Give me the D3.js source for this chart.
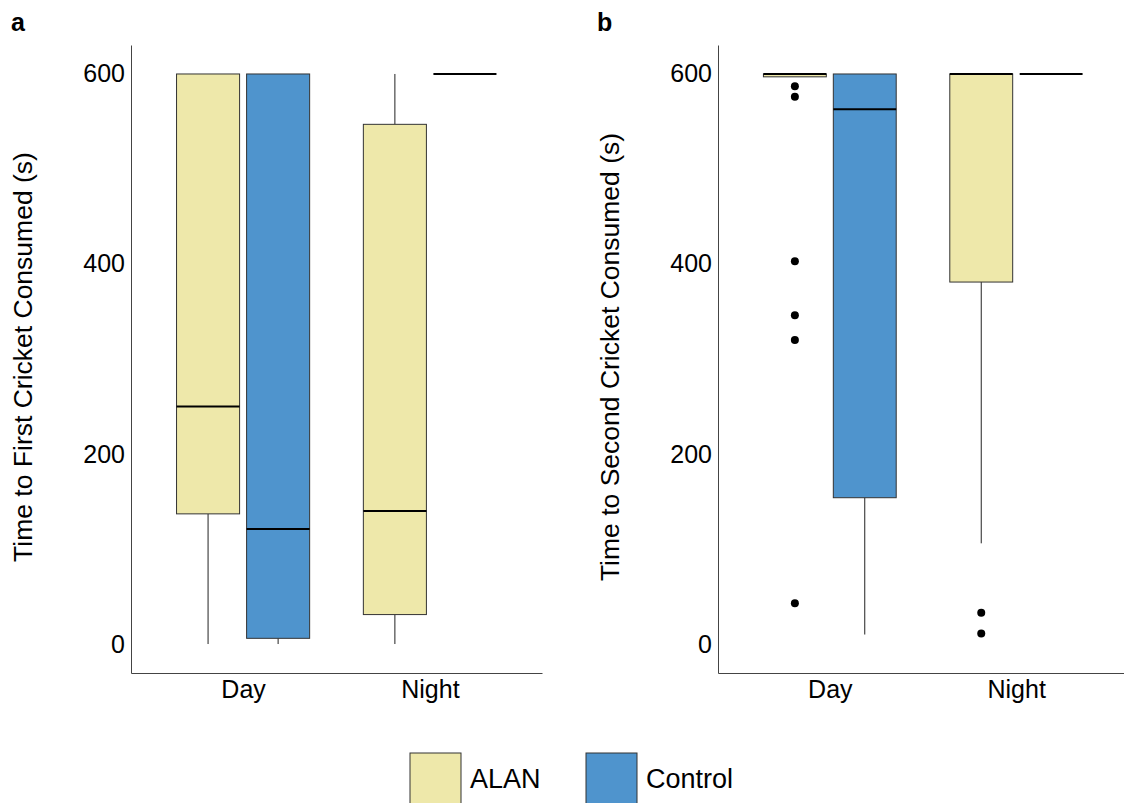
<!DOCTYPE html>
<html>
<head>
<meta charset="utf-8">
<script src="https://cdn.jsdelivr.net/npm/d3@7"></script>
<style>
  body { margin: 0; background: #fff; }
  svg text { font-family: "Liberation Sans", Arial, Helvetica, sans-serif; }
</style>
</head>
<body>
<svg id="chart" width="1124" height="803"></svg>
<script>
// ── Data ──────────────────────────────────────────────────────────────────────
const periods    = ['Day', 'Night'];
const treatments = ['ALAN', 'Control'];
const yTicks     = [0, 200, 400, 600];

// five-number summaries: [lower whisker, q1, median, q3, upper whisker]
const firstStats = [
  { period: 'Day',   treat: 'ALAN',    s: [0, 137, 250, 600, 600], out: [] },
  { period: 'Day',   treat: 'Control', s: [0, 6, 121, 600, 600],   out: [] },
  { period: 'Night', treat: 'ALAN',    s: [0, 31, 140, 547, 600],  out: [] },
  { period: 'Night', treat: 'Control', s: [600, 600, 600, 600, 600], out: [] }
];
const secondStats = [
  { period: 'Day',   treat: 'ALAN',    s: [597, 597, 600, 600, 600], out: [587, 576, 403, 346, 320, 43] },
  { period: 'Day',   treat: 'Control', s: [10, 154, 563, 600, 600],  out: [] },
  { period: 'Night', treat: 'ALAN',    s: [106, 381, 600, 600, 600], out: [33, 11] },
  { period: 'Night', treat: 'Control', s: [600, 600, 600, 600, 600], out: [] }
];

const fills = { ALAN: '#EEE8AA', Control: '#4F94CD' };

// ── Panel renderer ────────────────────────────────────────────────────────────
const svg = d3.select('#chart');

function drawPanel(opts) {
  const { x0, x1, y0, y1, stats, title, letter, letterX } = opts;
  const g = svg.append('g');

  const x = d3.scalePoint().domain(periods).range([x0, x1]).padding(0.6);
  const step = x.step();
  const y = d3.scaleLinear().domain([-30.5, 630.5]).range([y1, y0]);

  const boxW  = step * 0.75 / 2 * 0.9;
  const shift = d => (d.treat === 'ALAN' ? -1 : 1) * step * 0.1875;
  const cx    = d => x(d.period) + shift(d);

  // whiskers
  const bx = g.selectAll('g.box').data(stats).enter().append('g').attr('class', 'box');
  bx.append('line')
    .attr('x1', cx).attr('x2', cx)
    .attr('y1', d => y(d.s[0])).attr('y2', d => y(d.s[1]))
    .attr('stroke', '#222').attr('stroke-width', 1);
  bx.append('line')
    .attr('x1', cx).attr('x2', cx)
    .attr('y1', d => y(d.s[3])).attr('y2', d => y(d.s[4]))
    .attr('stroke', '#222').attr('stroke-width', 1);
  // box
  bx.append('rect')
    .attr('x', d => cx(d) - boxW / 2).attr('width', boxW)
    .attr('y', d => y(d.s[3])).attr('height', d => y(d.s[1]) - y(d.s[3]))
    .attr('fill', d => fills[d.treat])
    .attr('stroke', '#333').attr('stroke-width', 1);
  // median
  bx.append('line')
    .attr('x1', d => cx(d) - boxW / 2).attr('x2', d => cx(d) + boxW / 2)
    .attr('y1', d => y(d.s[2])).attr('y2', d => y(d.s[2]))
    .attr('stroke', '#000').attr('stroke-width', 2);
  // outliers
  bx.selectAll('circle').data(d => d.out.map(v => ({ v, c: cx(d) }))).enter().append('circle')
    .attr('cx', o => o.c).attr('cy', o => y(o.v)).attr('r', 4).attr('fill', '#000');

  // axes
  const yAxis = d3.axisLeft(y).tickValues(yTicks).tickSize(0).tickPadding(6);
  const ya = g.append('g').attr('transform', `translate(${x0},0)`).call(yAxis);
  ya.select('.domain').attr('stroke', '#444');
  ya.selectAll('text').attr('font-size', 25).attr('fill', '#000');

  const xAxis = d3.axisBottom(x).tickSize(0).tickPadding(7);
  const xa = g.append('g').attr('transform', `translate(0,${y1})`).call(xAxis);
  xa.select('.domain').attr('stroke', '#444');
  xa.selectAll('text').attr('font-size', 25).attr('fill', '#000');

  // y title
  g.append('text')
    .attr('transform', `translate(${opts.titleX},${(y0 + y1) / 2 - 2}) rotate(-90)`)
    .attr('text-anchor', 'middle').attr('font-size', 26.5).attr('fill', '#000')
    .text(title);

  // panel letter
  g.append('text').attr('x', letterX).attr('y', 31)
    .attr('font-size', 25).attr('font-weight', 'bold').text(letter);
}

drawPanel({ x0: 131, x1: 542, y0: 45, y1: 673, stats: firstStats,
  title: 'Time to First Cricket Consumed (s)', titleX: 32, letter: 'a', letterX: 11 });
drawPanel({ x0: 718, x1: 1128, y0: 45, y1: 673, stats: secondStats,
  title: 'Time to Second Cricket Consumed (s)', titleX: 619, letter: 'b', letterX: 597 });

// ── Legend ────────────────────────────────────────────────────────────────────
const legX = d3.scaleOrdinal().domain(treatments).range([410, 586]);
const leg = svg.append('g').selectAll('g').data(treatments).enter().append('g')
  .attr('transform', d => `translate(${legX(d)},753)`);
leg.append('rect').attr('width', 51).attr('height', 60)
  .attr('fill', d => fills[d]).attr('stroke', '#333').attr('stroke-width', 1);
leg.append('text').attr('x', 60).attr('y', 35)
  .attr('font-size', 27).attr('fill', '#000').text(d => d);
</script>
</body>
</html>
